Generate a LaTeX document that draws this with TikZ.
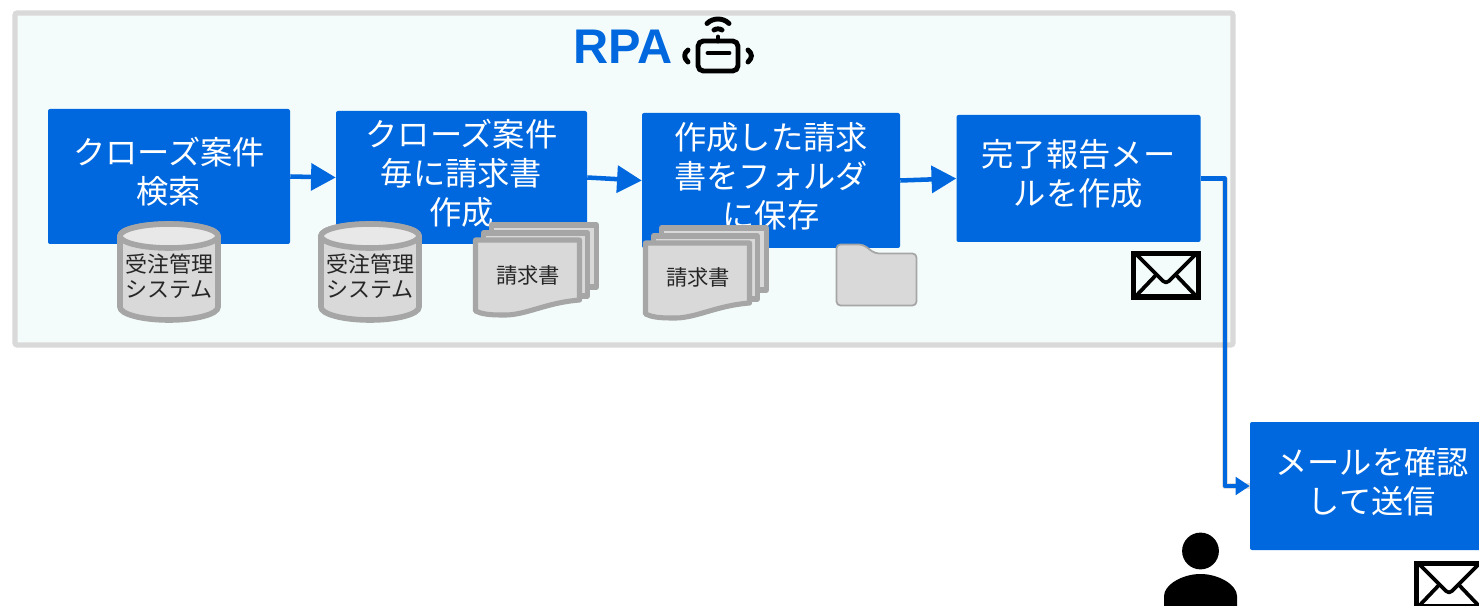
\documentclass[tikz,border=0pt]{standalone}
\usepackage{fontspec}
\setmainfont{Noto Sans CJK JP}
\newfontfamily\latinbold{Liberation Sans}
\usetikzlibrary{arrows.meta}
\definecolor{bluebox}{HTML}{0068DE}
\definecolor{framefill}{HTML}{F3FCFB}
\definecolor{framedraw}{HTML}{D9D9D9}
\definecolor{shapefill}{HTML}{D9D9D9}
\definecolor{shapetop}{HTML}{E8E8E8}
\definecolor{shapedraw}{HTML}{A6A6A6}
\def\px{0.75pt}
\tikzset{
  x=0.75pt,y=-0.75pt,
  mainbox/.style={fill=bluebox,rounded corners=1.5pt,text=white,inner sep=0pt,
    font=\fontsize{24.2}{29.2}\selectfont},
  flow/.style={bluebox,line width=3.4pt,-{Triangle[length=18.5pt,width=20pt]}},
  flowsmall/.style={bluebox,line width=3.4pt,line join=round,-{Triangle[length=10.5pt,width=13pt]}},
  flowshade/.style={black,opacity=.13,line width=4.5pt,line join=round},
  cylline/.style={draw=shapedraw,line width=4.2pt,fill=shapefill,line join=round},
  smalltext/.style={inner sep=0pt,align=center,text=black!85,font=\fontsize{16.5}{18.8}\selectfont},
  doctext/.style={inner sep=0pt,text=black!85,font=\fontsize{16}{18}\selectfont},
  docshape/.style={draw=shapedraw,line width=3.8pt,fill=shapefill,line join=round},
  iconline/.style={black,line width=3.7pt,line cap=round,line join=round},
}
\newcommand{\boxtext}[1]{\begin{tabular}{@{}c@{}}#1\end{tabular}}
\newcommand{\cylshape}[2]{%
  \begin{scope}[shift={(#1,#2)}]
    \draw[cylline] (-49,-86) -- (-49,-15) arc[start angle=180,end angle=0,x radius=49,y radius=13]
      -- (49,-86) arc[start angle=0,end angle=-180,x radius=49,y radius=12] -- cycle;
    \draw[draw=shapedraw,line width=4.2pt,fill=shapetop] (0,-86) ellipse[x radius=49,y radius=12];
  \end{scope}}
\newcommand{\docshapes}[2]{%
  \begin{scope}[shift={(#1,#2)}]
    \draw[docshape] (16,-15) -- (121,-15) -- (121,47) -- (16,47) -- cycle;
    \draw[docshape] (8,-7) -- (112,-7) -- (112,56) -- (8,56) -- cycle;
    \draw[docshape] (0,0) -- (104,0) -- (104,60) .. controls (68,63) and (50,76) .. (26,75)
      .. controls (14,75) and (6,74) .. (0,71) -- cycle;
  \end{scope}}
\newcommand{\envelope}[3]{%
  \begin{scope}[shift={(#1,#2)}]
    \fill[#3] (0,0) rectangle (70,48);
    \draw[black,line width=3.8pt] (2.5,2.5) rectangle (67.5,46);
    \draw[black,line width=2.8pt,line join=round] (5,3) -- (32,30) -- (35,31.5) -- (38,30) -- (65,3);
    \draw[black,line width=2.8pt] (5,45) -- (25,24);
    \draw[black,line width=2.8pt] (65,45) -- (45,24);
  \end{scope}}
\begin{document}
\begin{tikzpicture}
\useasboundingbox (0,0) rectangle (1479,606);
\clip (0,0) rectangle (1479,606);
% frame
\draw[draw=framedraw,fill=framefill,line width=3.8pt,rounded corners=1.5pt] (15,13) rectangle (1233,345);
% title
\node[inner sep=0pt,anchor=base west,text=bluebox,font=\latinbold\bfseries\fontsize{36.5}{40}\selectfont] (title) at (573,63.5) {RPA};
% robot icon
\draw[iconline,rounded corners=4pt] (698,41) rectangle (738,71);
\draw[iconline] (708,53) -- (729,53);
\draw[iconline] (718,41) -- (718,37);
\draw[iconline] (707,23.5) .. controls (713,17.5) and (723,17.5) .. (729,23.5);
\draw[iconline] (714,30) .. controls (716,28.5) and (720,28.5) .. (722,30);
\draw[iconline] (688,50) .. controls (683.5,53.5) and (683.5,58) .. (688,62);
\draw[iconline] (748,50) .. controls (752.5,53.5) and (752.5,58) .. (748,62);
% process boxes
\node[mainbox,minimum width=242*\px,minimum height=135*\px] (box1) at (169,176.5) {\boxtext{クローズ案件\\検索}};
\node[mainbox,minimum width=251*\px,minimum height=133*\px] (box2) at (461.5,177.5) {\boxtext{クローズ案件\\毎に請求書\\作成}};
\node[mainbox,minimum width=258*\px,minimum height=135*\px] (box3) at (771,180.5) {\boxtext{作成した請求\\書をフォルダ\\に保存}};
\node[mainbox,minimum width=244*\px,minimum height=127*\px] (box4) at (1078.5,178.5) {\boxtext{完了報告メー\\ルを作成}};
\node[mainbox,minimum width=244*\px,minimum height=128*\px] (box5) at (1372,486) {\boxtext{メールを確認\\して送信}};
% connectors
\coordinate (bend) at (1225,178.5);
\draw[flow] (box1.east) -- (box2.west);
\draw[flow] (box2.east) -- (box3.west);
\draw[flow] (box3.east) -- (box4.west);
\draw[flowshade,shift={(-1.5,2)}] (bend) |- (box5.west);
\draw[flowsmall] (box4.east) -- (bend) |- (box5.west);
% databases
\cylshape{169}{322}
\node[smalltext] (db1) at (169,276.5) {受注管理\\システム};
\cylshape{370}{322}
\node[smalltext] (db2) at (370,276.5) {受注管理\\システム};
% documents
\docshapes{475.5}{240}
\node[doctext] (doc1) at (528,275) {請求書};
\docshapes{645.5}{243}
\node[doctext] (doc2) at (698,277) {請求書};
% folder
\draw[draw=shapedraw,fill=shapefill,line width=1.3pt,rounded corners=3pt]
  (836.5,244.5) -- (863,244.5) -- (875,253.5) -- (916.5,253.5) -- (916.5,305.5) -- (836.5,305.5) -- cycle;
% envelopes
\envelope{1131}{251}{framefill}
\envelope{1414}{561}{white}
% person
\fill[black] (1200.5,551) circle[radius=18.4];
\fill[black] (1164,612) -- (1164,596) .. controls (1164,585) and (1182,574) .. (1200.5,574)
  .. controls (1219,574) and (1237,585) .. (1237,596) -- (1237,612) -- cycle;
\end{tikzpicture}
\end{document}
